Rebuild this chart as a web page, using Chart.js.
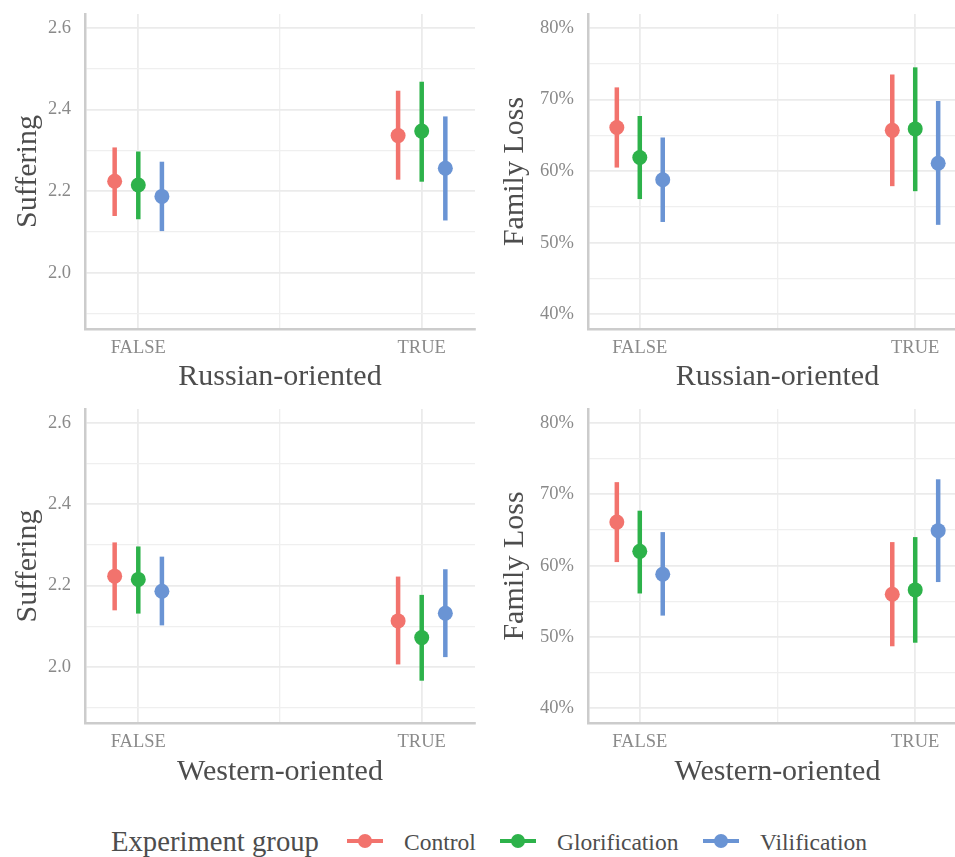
<!DOCTYPE html>
<html><head><meta charset="utf-8">
<script src="https://cdn.jsdelivr.net/npm/chart.js@4"></script>
<style>
html,body{margin:0;padding:0;background:#fff;overflow:hidden;}
body{width:955px;height:857px;position:relative;font-family:'Liberation Serif',serif;}
canvas{position:absolute;}
.leg{position:absolute;white-space:nowrap;color:#4D4D4D;line-height:40px;height:40px;}
.key{position:absolute;height:4px;width:36px;}
.dot{position:absolute;width:14px;height:14px;border-radius:50%;}
</style></head><body>
<canvas id="c1" width="478" height="395" style="left:0;top:0"></canvas>
<canvas id="c2" width="489" height="395" style="left:478px;top:0"></canvas>
<canvas id="c3" width="478" height="395" style="left:0;top:395px"></canvas>
<canvas id="c4" width="489" height="395" style="left:478px;top:395px"></canvas>
<div id="legend"></div>
<script>
// ---- categories & groups ----
const categories = ['FALSE', 'TRUE'];
const groups = ['Control', 'Glorification', 'Vilification'];
const groupColors = ['#F2736D', '#2DB24A', '#6A94D4'];
const dodgeWidth = 0.25;

// ---- tick values ----
const sufferingMajorTicks = [2.0, 2.2, 2.4, 2.6];
const sufferingMinorTicks = [1.9, 2.1, 2.3, 2.5];
const familyMajorTicks = [40, 50, 60, 70, 80];
const familyMinorTicks = [45, 55, 65, 75];
const xMajorTicks = [0, 1];
const xMinorTicks = [0.5];

// ---- Suffering by Russian-oriented (rows: Control, Glorification, Vilification; cols: FALSE, TRUE) ----
const sufRusMean = [[2.224, 2.336], [2.215, 2.347], [2.187, 2.256]];
const sufRusLow  = [[2.139, 2.228], [2.131, 2.223], [2.102, 2.128]];
const sufRusHigh = [[2.307, 2.446], [2.297, 2.468], [2.272, 2.383]];

// ---- Family Loss (%) by Russian-oriented ----
const famRusMean = [[66.1, 65.7], [61.9, 65.9], [58.8, 61.1]];
const famRusLow  = [[60.5, 57.9], [56.1, 57.2], [52.9, 52.5]];
const famRusHigh = [[71.7, 73.5], [67.7, 74.5], [64.7, 69.8]];

// ---- Suffering by Western-oriented ----
const sufWesMean = [[2.223, 2.113], [2.215, 2.072], [2.186, 2.132]];
const sufWesLow  = [[2.139, 2.006], [2.131, 1.966], [2.102, 2.024]];
const sufWesHigh = [[2.306, 2.222], [2.296, 2.177], [2.271, 2.240]];

// ---- Family Loss (%) by Western-oriented ----
const famWesMean = [[66.1, 56.0], [62.0, 56.6], [58.8, 64.9]];
const famWesLow  = [[60.5, 48.7], [56.1, 49.2], [53.0, 57.7]];
const famWesHigh = [[71.7, 63.3], [67.7, 64.0], [64.7, 72.1]];

Chart.defaults.font.family = "'Liberation Serif', serif";
Chart.defaults.animation = false;

const errorBars = {
  id: 'errorBars',
  beforeDatasetsDraw(chart) {
    const ctx = chart.ctx, ys = chart.scales.y;
    chart.data.datasets.forEach((ds, i) => {
      const meta = chart.getDatasetMeta(i);
      meta.data.forEach((pt, j) => {
        const d = ds.data[j];
        ctx.save();
        ctx.strokeStyle = ds.backgroundColor;
        ctx.lineWidth = 4.5;
        ctx.lineCap = 'butt';
        ctx.beginPath();
        ctx.moveTo(pt.x, ys.getPixelForValue(d.lo));
        ctx.lineTo(pt.x, ys.getPixelForValue(d.hi));
        ctx.stroke();
        ctx.restore();
      });
    });
  }
};

const GRID_MAJOR = '#EBEBEB', GRID_MINOR = '#EFEFEF';
const TICK_COLOR = '#8A8A8A', TITLE_COLOR = '#4D4D4D';

function makePanel(id, p) {
  const nG = groups.length;
  const datasets = groups.map((g, gi) => ({
    label: g,
    backgroundColor: groupColors[gi],
    borderColor: groupColors[gi],
    pointRadius: 7.5,
    pointHoverRadius: 7.5,
    pointBorderWidth: 0,
    data: categories.map((c, ci) => ({
      x: ci + (gi - (nG - 1) / 2) * dodgeWidth / nG,
      y: p.mean[gi][ci],
      lo: p.low[gi][ci],
      hi: p.high[gi][ci]
    }))
  }));
  const yAll = p.yMajor.concat(p.yMinor).sort((a, b) => a - b);
  const xAll = xMajorTicks.concat(xMinorTicks).sort((a, b) => a - b);
  return new Chart(document.getElementById(id), {
    type: 'scatter',
    data: { datasets },
    plugins: [errorBars],
    options: {
      responsive: false,
      devicePixelRatio: 1,
      layout: { autoPadding: false, padding: { left: 0, top: p.padTop, right: p.padRight, bottom: 0 } },
      plugins: { legend: { display: false }, tooltip: { enabled: false } },
      scales: {
        x: {
          type: 'linear', min: -0.188, max: 1.188,
          afterBuildTicks: s => { s.ticks = xAll.map(v => ({ value: v })); },
          afterFit: s => { s.height = p.xHeight; s.paddingLeft = 0; s.paddingRight = 0; },
          grid: {
            drawTicks: false,
            color: c => (c.tick && xMajorTicks.includes(c.tick.value)) ? GRID_MAJOR : GRID_MINOR,
            lineWidth: c => (c.tick && xMajorTicks.includes(c.tick.value)) ? 1.8 : 1.3
          },
          border: { display: true, color: '#CCCCCC', width: 2.5 },
          ticks: {
            autoSkip: false, maxRotation: 0, padding: 8, color: TICK_COLOR, font: { size: 18.5 },
            callback: v => { const i = xMajorTicks.indexOf(v); return i >= 0 ? categories[i] : ''; }
          },
          title: { display: true, text: p.xTitle, color: TITLE_COLOR, font: { size: 30 }, padding: { top: 0, bottom: 0 } }
        },
        y: {
          type: 'linear', min: p.yMin, max: p.yMax,
          afterBuildTicks: s => { s.ticks = yAll.map(v => ({ value: v })); },
          afterFit: s => { s.width = p.yWidth; s.paddingTop = 0; s.paddingBottom = 0; },
          grid: {
            drawTicks: false,
            color: c => (c.tick && p.yMajor.includes(c.tick.value)) ? GRID_MAJOR : GRID_MINOR,
            lineWidth: c => (c.tick && p.yMajor.includes(c.tick.value)) ? 1.8 : 1.3
          },
          border: { display: true, color: '#CCCCCC', width: 2.5 },
          ticks: {
            autoSkip: false, padding: 14, color: TICK_COLOR, font: { size: 18.5 },
            callback: v => p.yMajor.includes(v) ? p.fmt(v) : ''
          },
          title: { display: true, text: p.yTitle, color: TITLE_COLOR, font: { size: 30 }, padding: { top: p.yTitlePad, bottom: 0 } }
        }
      }
    }
  });
}

const sufFmt = v => v.toFixed(1);
const famFmt = v => v + '%';

makePanel('c1', { mean: sufRusMean, low: sufRusLow, high: sufRusHigh, yMajor: sufferingMajorTicks, yMinor: sufferingMinorTicks,
  yMin: 1.862, yMax: 2.634, fmt: sufFmt, xTitle: 'Russian-oriented', yTitle: 'Suffering', yWidth: 85, xHeight: 66, padTop: 14, padRight: 3, yTitlePad: 10 });
makePanel('c2', { mean: famRusMean, low: famRusLow, high: famRusHigh, yMajor: familyMajorTicks, yMinor: familyMinorTicks,
  yMin: 37.95, yMax: 81.95, fmt: famFmt, xTitle: 'Russian-oriented', yTitle: 'Family Loss', yWidth: 110, xHeight: 66, padTop: 14, padRight: 0, yTitlePad: 19 });
makePanel('c3', { mean: sufWesMean, low: sufWesLow, high: sufWesHigh, yMajor: sufferingMajorTicks, yMinor: sufferingMinorTicks,
  yMin: 1.862, yMax: 2.634, fmt: sufFmt, xTitle: 'Western-oriented', yTitle: 'Suffering', yWidth: 85, xHeight: 67, padTop: 14, padRight: 3, yTitlePad: 10 });
makePanel('c4', { mean: famWesMean, low: famWesLow, high: famWesHigh, yMajor: familyMajorTicks, yMinor: familyMinorTicks,
  yMin: 37.95, yMax: 81.95, fmt: famFmt, xTitle: 'Western-oriented', yTitle: 'Family Loss', yWidth: 110, xHeight: 67, padTop: 14, padRight: 0, yTitlePad: 19 });

// ---- shared legend ----
const legendTitle = 'Experiment group';
const legendKeyX = [347, 500, 703];
const legendLabelX = [404, 557, 760];
const legend = document.getElementById('legend');
let html = `<div class="leg" style="left:111px;top:821px;font-size:28.7px">${legendTitle}</div>`;
groups.forEach((g, i) => {
  html += `<div class="key" style="left:${legendKeyX[i]}px;top:839px;background:${groupColors[i]}"></div>`;
  html += `<div class="dot" style="left:${legendKeyX[i] + 11}px;top:834px;background:${groupColors[i]}"></div>`;
  html += `<div class="leg" style="left:${legendLabelX[i]}px;top:822px;font-size:23.5px">${g}</div>`;
});
legend.innerHTML = html;
</script>
</body></html>
